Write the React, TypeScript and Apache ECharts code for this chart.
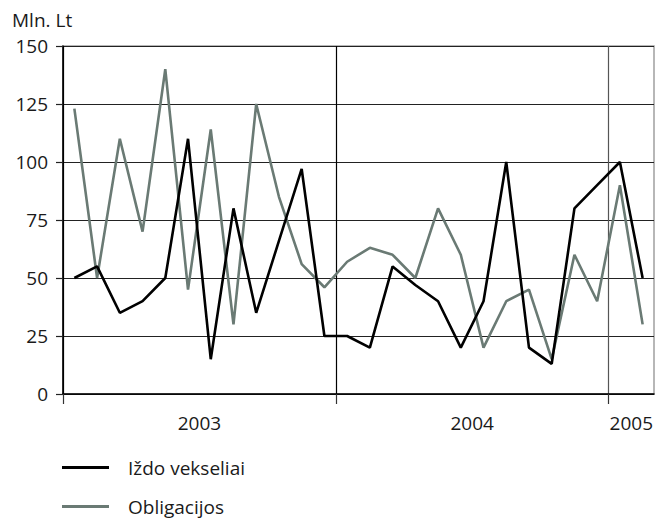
import React, { useEffect, useRef } from "react";
import * as echarts from "echarts";

const months = [
  "2003-01", "2003-02", "2003-03", "2003-04", "2003-05", "2003-06",
  "2003-07", "2003-08", "2003-09", "2003-10", "2003-11", "2003-12",
  "2004-01", "2004-02", "2004-03", "2004-04", "2004-05", "2004-06",
  "2004-07", "2004-08", "2004-09", "2004-10", "2004-11", "2004-12",
  "2005-01", "2005-02",
];
const izdoVekseliai = [50, 55, 35, 40, 50, 110, 15, 80, 35, 66, 97, 25, 25, 20, 55, 47, 40, 20, 40, 100, 20, 13, 80, 90, 100, 50];
const obligacijos = [123, 50, 110, 70, 140, 45, 114, 30, 125, 85, 56, 46, 57, 63, 60, 50, 80, 60, 20, 40, 45, 15, 60, 40, 90, 30];
const yearTicks = [0, 12, 24];
const yearLabelPos = [6, 18, 25];
const yearLabels = ["2003", "2004", "2005"];
const seriesNames = ["Iždo vekseliai", "Obligacijos"];
const FONT = "Open Sans";

export default function App() {
  const ref = useRef<HTMLDivElement>(null);
  useEffect(() => {
    if (!ref.current) return;
    const chart = echarts.init(ref.current, undefined, { renderer: "svg" });
    const toPairs = (arr: number[]) => arr.map((v, i) => [i + 0.5, v]);
    chart.setOption({
      animation: false,
      title: {
        text: "Mln. Lt",
        left: 12,
        top: 10,
        padding: 0,
        textStyle: { fontFamily: FONT, fontSize: 19, fontWeight: "normal", color: "#1a1a1a" },
      },
      grid: {
        left: 63,
        right: 12,
        top: 46,
        bottom: 126,
        show: true,
        borderColor: "#a0a0a0",
        borderWidth: 1.5,
        backgroundColor: "transparent",
      },
      legend: {
        orient: "vertical",
        left: 62,
        top: 458,
        padding: 0,
        itemWidth: 47,
        itemHeight: 3,
        itemGap: 20,
        icon: "rect",
        data: seriesNames,
        textStyle: {
          fontFamily: FONT,
          fontSize: 19,
          color: "#1a1a1a",
          lineHeight: 19,
          padding: [0, 0, 0, 14],
        },
      },
      xAxis: {
        type: "value",
        min: 0,
        max: months.length,
        axisLine: { show: true, lineStyle: { color: "#000", width: 1.5 } },
        axisTick: {
          show: true,
          length: 10,
          customValues: yearTicks,
          lineStyle: { color: "#333", width: 1.2 },
        },
        axisLabel: {
          customValues: yearLabelPos,
          margin: 19,
          fontFamily: FONT,
          fontSize: 19,
          color: "#1a1a1a",
          formatter: (v: number) => {
            const k = yearLabelPos.indexOf(v);
            return k >= 0 ? yearLabels[k] : "";
          },
        },
        splitLine: {
          show: true,
          lineStyle: { color: ["#000", "#000", "#555"], width: 1.2 },
        },
      },
      yAxis: {
        type: "value",
        min: 0,
        max: 150,
        interval: 25,
        axisLine: { show: true, lineStyle: { color: "#000", width: 1.5 } },
        axisTick: { show: true, length: 7, lineStyle: { color: "#222", width: 1.2 } },
        axisLabel: { margin: 15, fontFamily: FONT, fontSize: 19, color: "#1a1a1a" },
        splitLine: { show: true, lineStyle: { color: "#222", width: 1.2 } },
      },
      series: [
        {
          name: seriesNames[0],
          type: "line",
          data: toPairs(izdoVekseliai),
          showSymbol: false,
          symbol: "none",
          lineStyle: { color: "#000", width: 2.6 },
          itemStyle: { color: "#000" },
          z: 3,
        },
        {
          name: seriesNames[1],
          type: "line",
          data: toPairs(obligacijos),
          showSymbol: false,
          symbol: "none",
          lineStyle: { color: "#6a7a74", width: 2.6 },
          itemStyle: { color: "#6a7a74" },
          z: 2,
        },
      ],
    });
    return () => chart.dispose();
  }, []);
  return <div ref={ref} style={{ width: 666, height: 520, position: "absolute", left: 0, top: 0 }} />;
}
